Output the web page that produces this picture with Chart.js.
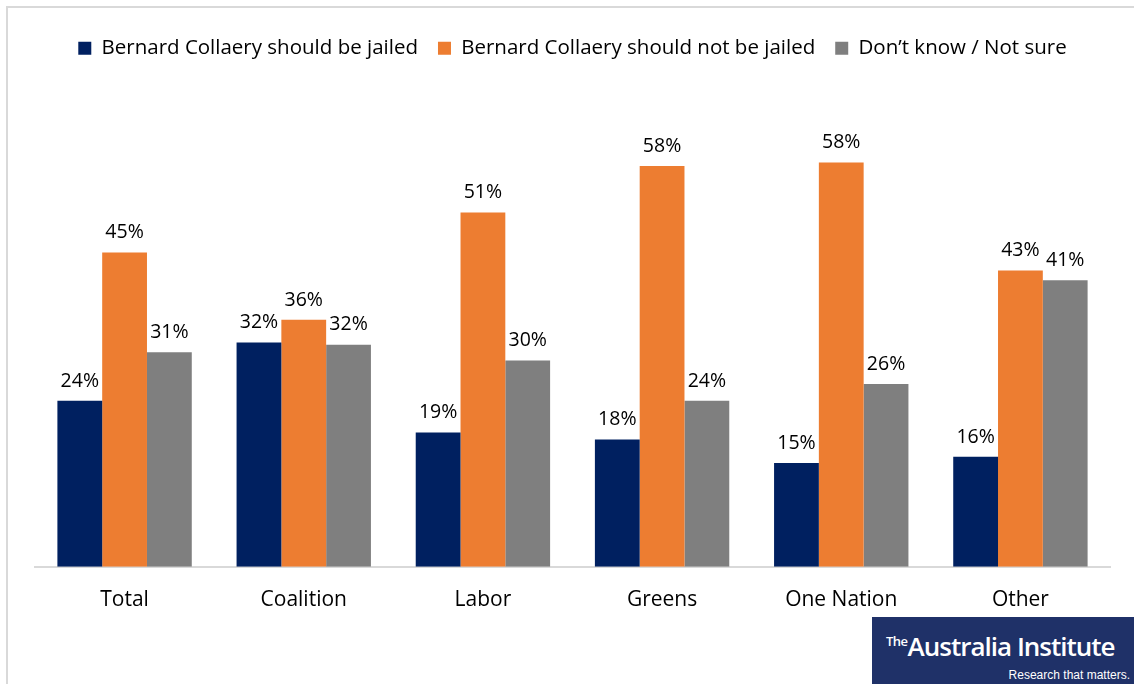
<!DOCTYPE html>
<html lang="en">
<head>
  <meta charset="UTF-8">
  <title>Bernard Collaery poll</title>
  <script src="https://cdn.jsdelivr.net/npm/chart.js"></script>
  <style>
    body {
      margin: 0;
      background: #fff;
      font-family: 'Open Sans', sans-serif;
    }
    .wrap {
      position: relative;
      width: 1134px;
      height: 684px;
      overflow: hidden;
    }
    .frame {
      position: absolute;
      left: 6px;
      top: 6px;
      right: -2px;
      bottom: -2px;
      border-left: 2px solid #d9d9d9;
      border-top: 2px solid #d9d9d9;
    }
    canvas {
      position: absolute;
      left: 0;
      top: 0;
    }
    .logo {
      position: absolute;
      left: 872px;
      top: 617px;
      width: 262px;
      height: 67px;
      background: #1f3168;
      color: #fff;
    }
    .logo .name {
      position: absolute;
      left: 14px;
      top: 11px;
      font-size: 26px;
      font-weight: 600;
      letter-spacing: -1px;
      white-space: nowrap;
    }
    .logo .name sup {
      font-size: 13px;
      letter-spacing: -0.5px;
      vertical-align: 10px;
    }
    .logo .tag {
      position: absolute;
      right: 4px;
      bottom: 2px;
      font-size: 12px;
      font-family: 'Liberation Sans Narrow', 'Liberation Sans', sans-serif;
    }
  </style>
</head>
<body>
<div class="wrap">
  <div class="frame"></div>
  <canvas id="chart" width="1134" height="684"></canvas>
  <div class="logo">
    <div class="name"><sup>The</sup>Australia Institute</div>
    <div class="tag">Research that matters.</div>
  </div>
</div>

<script>
  const categories = ["Total", "Coalition", "Labor", "Greens", "One Nation", "Other"];
  const jailed = [24, 32.4, 19.4, 18.4, 15, 15.9];
  const notJailed = [45.4, 35.7, 51.2, 57.9, 58.4, 42.8];
  const dontKnow = [31, 32.1, 29.8, 24, 26.4, 41.4];
  const seriesNames = ["Bernard Collaery should be jailed", "Bernard Collaery should not be jailed", "Don\u2019t know / Not sure"];
  const seriesColors = ["#002060", "#ed7d31", "#7f7f7f"];

  const valueLabels = {
    id: "valueLabels",
    afterDatasetsDraw(chart) {
      const ctx = chart.ctx;
      ctx.save();
      ctx.font = "19.5px 'Open Sans', sans-serif";
      ctx.fillStyle = "#000";
      ctx.textAlign = "center";
      ctx.textBaseline = "bottom";
      chart.data.datasets.forEach((ds, i) => {
        chart.getDatasetMeta(i).data.forEach((bar, j) => {
          ctx.fillText(Math.round(ds.data[j]) + "%", bar.x, bar.y - 10);
        });
      });
      ctx.restore();
    }
  };

  new Chart(document.getElementById("chart"), {
    type: "bar",
    data: {
      labels: categories,
      datasets: [jailed, notJailed, dontKnow].map((d, i) => ({
        label: seriesNames[i],
        data: d,
        backgroundColor: seriesColors[i],
        barPercentage: 1,
        categoryPercentage: 0.75
      }))
    },
    options: {
      responsive: false,
      animation: false,
      layout: { padding: { left: 35, right: 24, top: 18, bottom: 58 } },
      scales: {
        x: {
          grid: { display: false },
          border: { color: "#d9d9d9", width: 2 },
          ticks: { color: "#000", font: { size: 21, family: "'Open Sans', sans-serif" }, padding: 13 }
        },
        y: {
          display: false,
          min: 0,
          max: 72
        }
      },
      plugins: {
        legend: {
          labels: {
            color: "#000",
            boxWidth: 13,
            boxHeight: 13,
            padding: 20,
            font: { size: 20.5, family: "'Open Sans', sans-serif" }
          }
        },
        tooltip: { enabled: false }
      }
    },
    plugins: [valueLabels]
  });
</script>
</body>
</html>
